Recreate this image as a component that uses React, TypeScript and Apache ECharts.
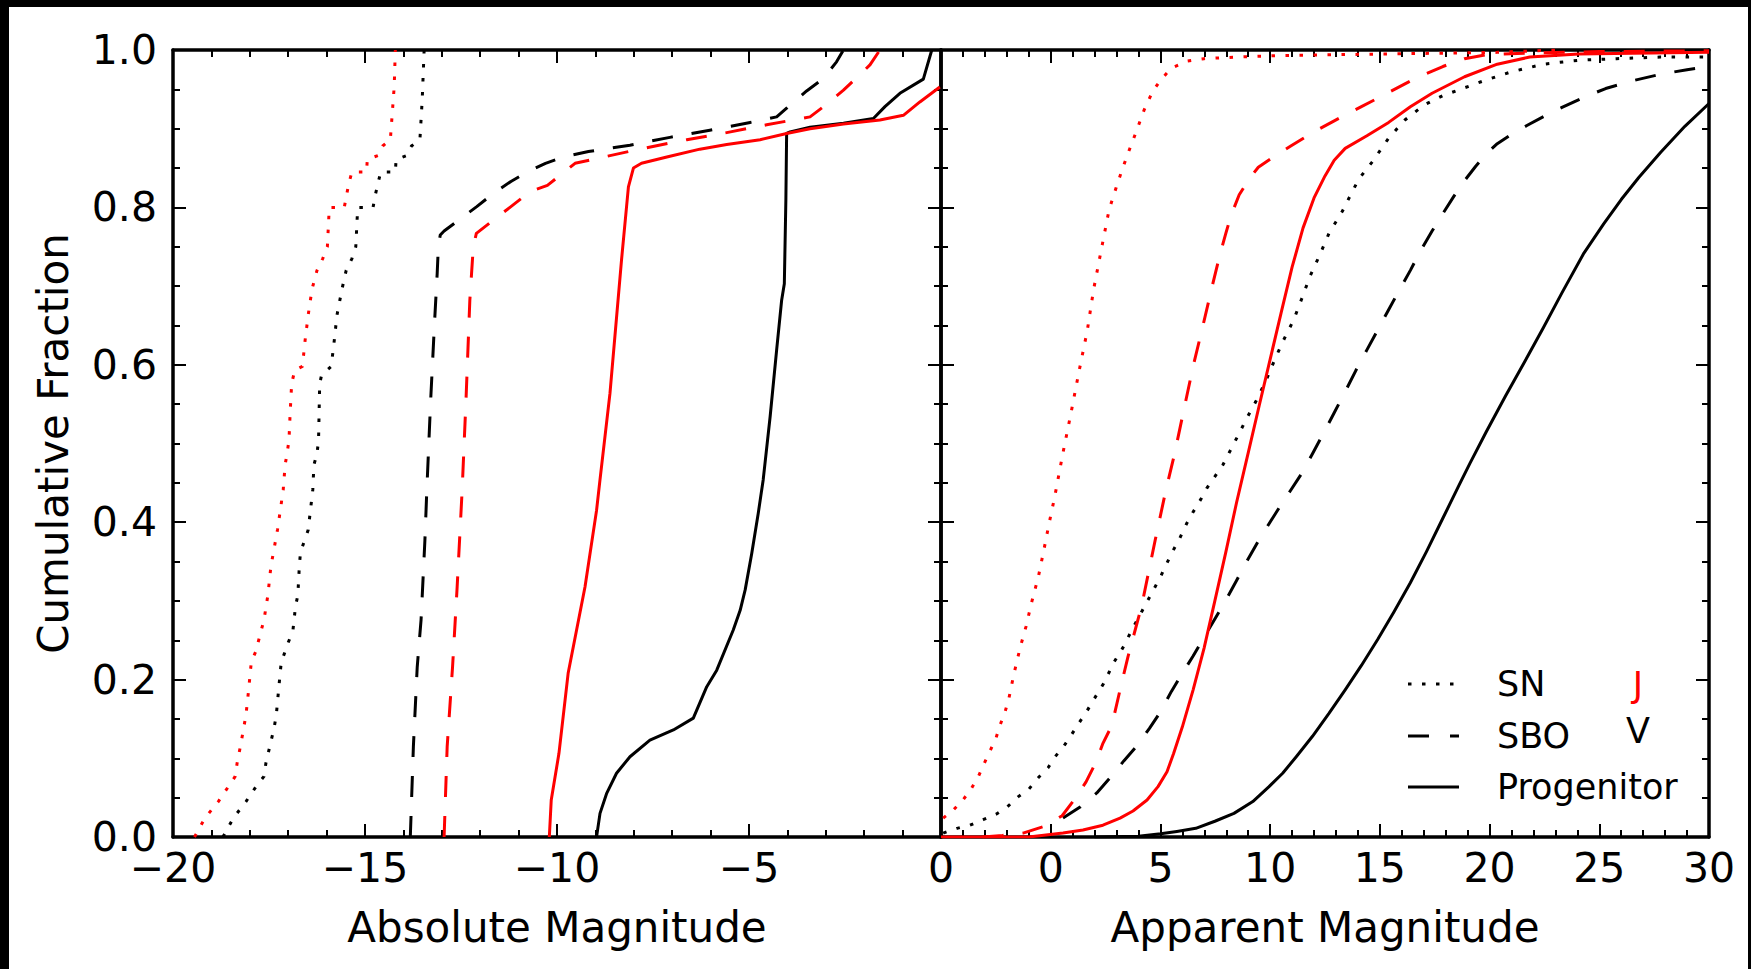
import React, { useEffect, useRef } from 'react';
import * as echarts from 'echarts';

type Pt = [number, number];

// ---------- Left panel: absolute magnitude (x) vs cumulative fraction (y) ----------
const absSN_V: Pt[] = [
  [-18.70, 0.000], [-18.43, 0.024], [-18.10, 0.045], [-17.81, 0.066], [-17.63, 0.077], [-17.58, 0.094],
  [-17.48, 0.115], [-17.37, 0.138], [-17.31, 0.155], [-17.25, 0.187], [-17.18, 0.223], [-17.10, 0.233],
  [-17.01, 0.246], [-16.88, 0.261], [-16.81, 0.293], [-16.75, 0.307], [-16.71, 0.344], [-16.68, 0.362],
  [-16.48, 0.390], [-16.36, 0.441], [-16.33, 0.473], [-16.25, 0.487], [-16.21, 0.504], [-16.18, 0.576],
  [-16.13, 0.587], [-15.88, 0.598], [-15.80, 0.631], [-15.73, 0.663], [-15.60, 0.696], [-15.49, 0.720],
  [-15.34, 0.735], [-15.24, 0.750], [-15.19, 0.800], [-14.79, 0.800], [-14.74, 0.814], [-14.66, 0.831],
  [-14.59, 0.845], [-14.21, 0.845], [-14.19, 0.861], [-13.91, 0.866], [-13.79, 0.878], [-13.57, 0.886],
  [-13.51, 0.937], [-13.46, 1.000],
];
const absSN_J: Pt[] = [
  [-19.44, 0.000], [-19.17, 0.024], [-18.82, 0.045], [-18.53, 0.066], [-18.38, 0.077], [-18.33, 0.094],
  [-18.23, 0.119], [-18.10, 0.155], [-18.03, 0.187], [-17.96, 0.223], [-17.85, 0.235], [-17.71, 0.261],
  [-17.63, 0.276], [-17.53, 0.307], [-17.45, 0.344], [-17.28, 0.390], [-17.13, 0.441], [-17.08, 0.473],
  [-17.03, 0.487], [-16.98, 0.504], [-16.95, 0.538], [-16.91, 0.576], [-16.83, 0.593], [-16.63, 0.598],
  [-16.56, 0.631], [-16.48, 0.663], [-16.38, 0.696], [-16.25, 0.720], [-16.10, 0.735], [-15.98, 0.750],
  [-15.93, 0.800], [-15.54, 0.800], [-15.42, 0.831], [-15.34, 0.845], [-14.96, 0.845], [-14.94, 0.861],
  [-14.66, 0.866], [-14.54, 0.878], [-14.34, 0.886], [-14.24, 0.953], [-14.21, 1.000],
];
const absSBO_V: Pt[] = [
  [-13.82, 0.000], [-13.74, 0.115], [-13.64, 0.216], [-13.54, 0.276], [-13.44, 0.377], [-13.39, 0.441],
  [-13.29, 0.555], [-13.19, 0.653], [-13.12, 0.716], [-13.09, 0.750], [-13.04, 0.765], [-12.94, 0.770],
  [-12.50, 0.786], [-12.09, 0.801], [-11.65, 0.818], [-11.20, 0.833], [-10.70, 0.847], [-10.30, 0.856],
  [-9.83, 0.864], [-9.18, 0.871], [-8.10, 0.879], [-7.06, 0.889], [-6.02, 0.898], [-4.97, 0.908],
  [-4.28, 0.915], [-4.02, 0.926], [-3.50, 0.948], [-3.06, 0.964], [-2.72, 0.985], [-2.54, 1.000],
];
const absSBO_J: Pt[] = [
  [-12.94, 0.000], [-12.86, 0.115], [-12.72, 0.216], [-12.60, 0.318], [-12.47, 0.441], [-12.37, 0.555],
  [-12.27, 0.682], [-12.18, 0.750], [-12.10, 0.767], [-11.60, 0.786], [-11.20, 0.801], [-10.70, 0.820],
  [-10.25, 0.828], [-9.81, 0.845], [-9.53, 0.856], [-8.79, 0.864], [-7.75, 0.875], [-6.62, 0.886],
  [-5.58, 0.895], [-4.54, 0.905], [-3.41, 0.915], [-3.06, 0.928], [-2.54, 0.949], [-1.85, 0.981],
  [-1.59, 1.000],
];
const absProg_J: Pt[] = [
  [-10.20, 0.000], [-10.15, 0.047], [-9.95, 0.106], [-9.71, 0.208], [-9.27, 0.318], [-8.97, 0.415],
  [-8.88, 0.454], [-8.62, 0.564], [-8.32, 0.733], [-8.14, 0.826], [-8.01, 0.850], [-7.80, 0.856],
  [-7.14, 0.864], [-6.28, 0.874], [-5.58, 0.880], [-4.71, 0.886], [-4.02, 0.894], [-3.41, 0.900],
  [-2.54, 0.906], [-1.59, 0.911], [-0.98, 0.917], [-0.55, 0.934], [-0.03, 0.953],
];
const absProg_V: Pt[] = [
  [-8.97, 0.000], [-8.88, 0.030], [-8.71, 0.055], [-8.45, 0.081], [-8.10, 0.102], [-7.58, 0.123],
  [-6.97, 0.136], [-6.45, 0.151], [-6.10, 0.191], [-5.84, 0.212], [-5.41, 0.263], [-5.23, 0.288],
  [-5.10, 0.314], [-4.93, 0.360], [-4.76, 0.411], [-4.63, 0.454], [-4.45, 0.534], [-4.28, 0.619],
  [-4.15, 0.682], [-4.08, 0.703], [-4.04, 0.809], [-4.02, 0.894], [-3.93, 0.896], [-3.41, 0.902],
  [-2.54, 0.907], [-1.76, 0.913], [-1.46, 0.928], [-1.07, 0.945], [-0.46, 0.963], [-0.24, 1.000],
];

// ---------- Right panel: apparent magnitude (x) vs cumulative fraction (y) ----------
const appSN_J: Pt[] = [
  [-4.90, 0.024], [-4.45, 0.034], [-4.00, 0.047], [-3.63, 0.061], [-3.31, 0.076], [-3.04, 0.093],
  [-2.77, 0.109], [-2.49, 0.126], [-2.31, 0.142], [-2.08, 0.159], [-1.90, 0.177], [-1.67, 0.208],
  [-1.38, 0.242], [-1.13, 0.267], [-0.88, 0.297], [-0.56, 0.331], [-0.31, 0.365], [-0.07, 0.399],
  [0.18, 0.432], [0.55, 0.487], [0.92, 0.538], [1.30, 0.593], [1.67, 0.644], [1.95, 0.695],
  [2.33, 0.750], [2.66, 0.797], [2.98, 0.825], [3.28, 0.850], [3.58, 0.873], [3.92, 0.898],
  [4.26, 0.924], [4.64, 0.947], [5.01, 0.962], [5.50, 0.977], [6.24, 0.986], [6.99, 0.989],
  [8.47, 0.991], [10.45, 0.993], [12.92, 0.994], [17.87, 0.996], [20.35, 0.997], [23.00, 1.000],
];
const appSBO_J: Pt[] = [
  [-3.10, 0.000], [-2.20, 0.002], [-1.26, 0.005], [-0.35, 0.013], [0.52, 0.027], [1.06, 0.047],
  [1.61, 0.070], [2.06, 0.095], [2.38, 0.119], [2.79, 0.142], [3.16, 0.187], [3.52, 0.229],
  [4.14, 0.293], [4.76, 0.377], [5.25, 0.441], [5.63, 0.485], [6.00, 0.534], [6.49, 0.598],
  [6.94, 0.650], [7.36, 0.700], [7.73, 0.742], [7.98, 0.767], [8.22, 0.790], [8.59, 0.816],
  [9.09, 0.838], [9.46, 0.851], [10.20, 0.865], [10.94, 0.878], [11.93, 0.895], [12.92, 0.910],
  [14.16, 0.928], [15.40, 0.946], [16.63, 0.964], [17.87, 0.979], [18.86, 0.989], [19.85, 0.994],
  [21.58, 0.996], [25.00, 0.998], [30.00, 0.999],
];
const appProg_J: Pt[] = [
  [-5.00, 0.000], [-1.00, 0.000], [0.56, 0.005], [1.47, 0.009], [2.38, 0.015], [3.16, 0.024],
  [3.75, 0.033], [4.39, 0.047], [4.89, 0.064], [5.30, 0.083], [5.60, 0.106], [6.00, 0.140],
  [6.49, 0.187], [6.99, 0.240], [7.48, 0.300], [7.98, 0.362], [8.47, 0.425], [9.00, 0.488],
  [9.50, 0.548], [10.00, 0.607], [10.50, 0.666], [11.00, 0.724], [11.50, 0.774], [12.00, 0.812],
  [12.50, 0.840], [12.92, 0.860], [13.42, 0.875], [14.41, 0.891], [15.40, 0.908], [16.39, 0.928],
  [17.38, 0.945], [18.86, 0.966], [20.35, 0.982], [21.83, 0.991], [24.06, 0.995], [26.53, 0.996],
  [30.00, 0.997],
];
const appSN_V: Pt[] = [
  [-4.90, 0.005], [-4.27, 0.011], [-3.68, 0.015], [-3.08, 0.022], [-2.49, 0.029], [-1.99, 0.038],
  [-1.49, 0.051], [-0.99, 0.061], [-0.58, 0.075], [-0.12, 0.088], [0.20, 0.102], [0.61, 0.116],
  [0.97, 0.131], [1.29, 0.145], [1.65, 0.160], [1.97, 0.175], [2.41, 0.195], [2.90, 0.223],
  [3.28, 0.240], [3.77, 0.267], [4.14, 0.286], [4.51, 0.305], [5.01, 0.331], [5.50, 0.360],
  [5.87, 0.379], [6.19, 0.398], [6.49, 0.413], [6.86, 0.430], [7.11, 0.443], [7.85, 0.473],
  [8.35, 0.500], [8.97, 0.534], [9.34, 0.553], [9.83, 0.581], [10.20, 0.606], [10.57, 0.629],
  [11.07, 0.657], [11.44, 0.684], [11.81, 0.712], [12.30, 0.742], [12.68, 0.767], [13.29, 0.795],
  [13.67, 0.816], [14.04, 0.836], [14.66, 0.858], [15.03, 0.873], [15.40, 0.888], [16.14, 0.911],
  [17.01, 0.930], [17.87, 0.942], [18.86, 0.952], [19.85, 0.962], [20.96, 0.972], [22.45, 0.982],
  [24.06, 0.987], [25.79, 0.989], [27.77, 0.991], [30.00, 0.991],
];
const appSBO_V: Pt[] = [
  [0.56, 0.024], [1.34, 0.038], [2.10, 0.056], [2.70, 0.075], [3.34, 0.097], [3.93, 0.116],
  [4.50, 0.138], [5.00, 0.159], [5.50, 0.185], [6.00, 0.208], [6.49, 0.230], [6.99, 0.254],
  [7.48, 0.277], [7.98, 0.301], [8.47, 0.326], [8.97, 0.352], [9.46, 0.376], [9.95, 0.398],
  [10.45, 0.420], [10.90, 0.439], [11.44, 0.462], [11.93, 0.487], [12.43, 0.513], [12.92, 0.539],
  [13.42, 0.566], [13.91, 0.593], [14.41, 0.619], [14.90, 0.644], [15.40, 0.670], [15.89, 0.695],
  [16.39, 0.720], [16.88, 0.746], [17.38, 0.770], [17.87, 0.792], [18.37, 0.814], [18.86, 0.834],
  [19.36, 0.852], [19.85, 0.868], [20.35, 0.881], [21.00, 0.893], [21.70, 0.904], [22.50, 0.916],
  [23.30, 0.927], [24.30, 0.940], [25.29, 0.951], [26.53, 0.961], [27.77, 0.969], [29.00, 0.975],
  [30.00, 0.979],
];
const appProg_V: Pt[] = [
  [2.00, 0.000], [4.00, 0.001], [5.01, 0.004], [5.75, 0.007], [6.61, 0.011], [7.48, 0.020],
  [8.35, 0.030], [9.21, 0.045], [9.95, 0.064], [10.57, 0.081], [11.19, 0.102], [11.93, 0.128],
  [12.68, 0.157], [13.42, 0.187], [14.16, 0.218], [14.90, 0.251], [15.64, 0.286], [16.39, 0.323],
  [17.13, 0.363], [17.87, 0.405], [18.61, 0.447], [19.11, 0.475], [19.85, 0.515], [20.72, 0.560],
  [21.58, 0.603], [22.45, 0.647], [23.31, 0.692], [24.30, 0.742], [25.20, 0.779], [26.00, 0.810],
  [26.80, 0.838], [27.80, 0.870], [28.90, 0.903], [30.00, 0.932],
];

// axes / labels
const absRange: [number, number] = [-20, 0];
const appRange: [number, number] = [-5, 30];
const fracRange: [number, number] = [0, 1];
const xTitleLeft = 'Absolute Magnitude';
const xTitleRight = 'Apparent Magnitude';
const yTitle = 'Cumulative Fraction';
const legendNames = ['SN', 'SBO', 'Progenitor'];
const bandNames = ['J', 'V'];

const FONT = 'DejaVu Sans';
const RED = '#ff0000';
const BLACK = '#000000';
const DOT = [3.5, 10.5];
const DASH = [21, 19];

const fmtX = (hideMinus5: boolean) => (v: number) => {
  if (hideMinus5 && Math.abs(v + 5) < 1e-9) return '';
  const r = Math.round(v);
  return r < 0 ? '\u2212' + Math.abs(r) : String(r);
};

function xAxis(grid: number, range: [number, number], pos: 'top' | 'bottom', labels: boolean, title: string, hideMin: boolean) {
  return {
    type: 'value', gridIndex: grid, min: range[0], max: range[1], interval: 5, position: pos,
    name: title, nameLocation: 'middle', nameGap: 69,
    nameTextStyle: { fontSize: 42, fontFamily: FONT, color: BLACK },
    axisLine: { show: true, onZero: false, lineStyle: { color: BLACK, width: 3.5 } },
    axisTick: { show: true, inside: true, length: 13, lineStyle: { color: BLACK, width: 2 } },
    minorTick: { show: true, splitNumber: 5, length: 7, lineStyle: { color: BLACK, width: 2 } },
    splitLine: { show: false }, minorSplitLine: { show: false },
    axisLabel: {
      show: labels, margin: 15.5, fontSize: 41, lineHeight: 30, fontFamily: FONT, color: BLACK,
      showMinLabel: true, showMaxLabel: true, formatter: fmtX(hideMin),
    },
  };
}

function yAxis(grid: number, pos: 'left' | 'right', labels: boolean, title: string) {
  return {
    type: 'value', gridIndex: grid, min: fracRange[0], max: fracRange[1], interval: 0.2, position: pos,
    name: title, nameLocation: 'middle', nameGap: 99,
    nameTextStyle: { fontSize: 42, fontFamily: FONT, color: BLACK },
    axisLine: { show: true, onZero: false, lineStyle: { color: BLACK, width: 3.5 } },
    axisTick: { show: true, inside: true, length: 13, lineStyle: { color: BLACK, width: 2 } },
    minorTick: { show: true, splitNumber: 4, length: 7, lineStyle: { color: BLACK, width: 2 } },
    splitLine: { show: false }, minorSplitLine: { show: false },
    axisLabel: {
      show: labels, margin: 16, fontSize: 41, lineHeight: 28, fontFamily: FONT, color: BLACK,
      showMinLabel: true, showMaxLabel: true, formatter: (v: number) => v.toFixed(1),
    },
  };
}

function line(name: string, data: Pt[], color: string, dash: any, xi: number, yi: number) {
  return {
    type: 'line', name, data, xAxisIndex: xi, yAxisIndex: yi,
    showSymbol: false, symbol: 'none', silent: true, clip: true, smooth: false,
    lineStyle: { color, width: 3, type: dash, cap: 'butt', join: 'round' },
  };
}

export default function App() {
  const ref = useRef<HTMLDivElement>(null);
  useEffect(() => {
    document.body.style.margin = '0';
    const chart = echarts.init(ref.current!, null, { renderer: 'svg' });
    const gTop = 43, gH = 787, gW = 768;
    const legX1 = 1399, legX2 = 1450, legText = 1488, bandX = 1629;
    const legY = [677, 729, 780];
    const textStyle = (text: string, x: number, y: number, fill: string, align: string) => ({
      type: 'text', x, y,
      style: { text, fill, fontSize: 35, fontFamily: FONT, textAlign: align, textVerticalAlign: 'middle' },
    });
    const option: any = {
      animation: false,
      backgroundColor: '#ffffff',
      grid: [
        { left: 164, top: gTop, width: gW, height: gH, containLabel: false },
        { left: 932, top: gTop, width: gW, height: gH, containLabel: false },
      ],
      xAxis: [
        xAxis(0, absRange, 'bottom', true, xTitleLeft, false),
        xAxis(0, absRange, 'top', false, '', false),
        xAxis(1, appRange, 'bottom', true, xTitleRight, true),
        xAxis(1, appRange, 'top', false, '', false),
      ],
      yAxis: [
        yAxis(0, 'left', true, yTitle),
        yAxis(0, 'right', false, ''),
        yAxis(1, 'left', false, ''),
        yAxis(1, 'right', false, ''),
      ],
      series: [
        line('SN V', absSN_V, BLACK, DOT, 0, 0),
        line('SN J', absSN_J, RED, DOT, 0, 0),
        line('SBO V', absSBO_V, BLACK, DASH, 0, 0),
        line('SBO J', absSBO_J, RED, DASH, 0, 0),
        line('Progenitor V', absProg_V, BLACK, 'solid', 0, 0),
        line('Progenitor J', absProg_J, RED, 'solid', 0, 0),
        line('SN V app', appSN_V, BLACK, DOT, 2, 2),
        line('SN J app', appSN_J, RED, DOT, 2, 2),
        line('SBO V app', appSBO_V, BLACK, DASH, 2, 2),
        line('SBO J app', appSBO_J, RED, DASH, 2, 2),
        line('Progenitor V app', appProg_V, BLACK, 'solid', 2, 2),
        line('Progenitor J app', appProg_J, RED, 'solid', 2, 2),
      ],
      graphic: [
        { type: 'line', shape: { x1: legX1, y1: legY[0], x2: legX2, y2: legY[0] }, style: { stroke: BLACK, lineWidth: 3, lineDash: DOT } },
        { type: 'line', shape: { x1: legX1, y1: legY[1], x2: legX2, y2: legY[1] }, style: { stroke: BLACK, lineWidth: 3, lineDash: [21, 21] } },
        { type: 'line', shape: { x1: legX1, y1: legY[2], x2: legX2, y2: legY[2] }, style: { stroke: BLACK, lineWidth: 3 } },
        textStyle(legendNames[0], legText, legY[0], BLACK, 'left'),
        textStyle(legendNames[1], legText, legY[1], BLACK, 'left'),
        textStyle(legendNames[2], legText, legY[2], BLACK, 'left'),
        textStyle(bandNames[0], bandX, 678, RED, 'center'),
        textStyle(bandNames[1], bandX, 724, BLACK, 'center'),
      ],
    };
    chart.setOption(option);
    return () => chart.dispose();
  }, []);
  return (
    <div style={{ position: 'absolute', left: 0, top: 0, width: 1751, height: 969, background: '#000' }}>
      <div ref={ref} style={{ position: 'absolute', left: 9, top: 7, width: 1739, height: 962, background: '#fff' }} />
    </div>
  );
}
